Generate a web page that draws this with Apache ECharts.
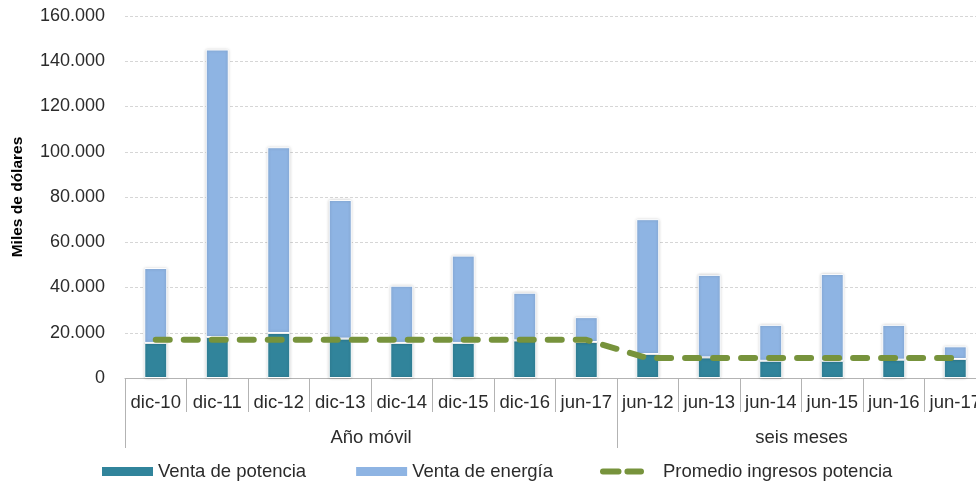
<!DOCTYPE html>
<html>
<head>
<meta charset="utf-8">
<script src="https://cdn.jsdelivr.net/npm/echarts@6/dist/echarts.min.js"></script>
<style>
  html, body { margin: 0; padding: 0; background: #fff; }
  #chart { width: 976px; height: 483px; }
</style>
</head>
<body>
<div id="chart"></div>
<script>
// Periods shown on the lower axis
const categories = ['dic-10', 'dic-11', 'dic-12', 'dic-13', 'dic-14', 'dic-15', 'dic-16', 'jun-17',
                    'jun-12', 'jun-13', 'jun-14', 'jun-15', 'jun-16', 'jun-17'];
// Period groups and how many periods each one holds
const groupNames = ['Año móvil', 'seis meses'];
const groupSizes = [8, 6];

// Miles de dólares
const ventaPotencia = [15500, 18100, 19900, 17400, 15500, 15500, 16600, 15900,
                       10600, 9100, 7600, 7600, 8100, 8400];
const ventaEnergia = [33100, 127100, 82100, 61300, 25300, 38600, 21100, 11000,
                      59600, 36500, 15900, 38400, 15400, 5600];
const promedioPotencia = [16900, 16900, 16900, 16900, 16900, 16900, 16900, 16900,
                          8800, 8800, 8800, 8800, 8800, 8800];

const yTicks = { min: 0, max: 160000, interval: 20000 };

// Group boundaries and centres along the category index scale
const groupEdges = [0];
groupSizes.forEach(n => groupEdges.push(groupEdges[groupEdges.length - 1] + n));
const groupCenters = groupSizes.map((n, i) => groupEdges[i] + n / 2);

const FONT = "'Liberation Sans', Arial, sans-serif";
const TEXT = '#2b2b2b';
const AXIS_GRAY = '#b3b3b3';
const C_POT = '#31849B';
const C_ENE = '#8EB4E3';
const C_AVG = '#77933C';

// Two short rounded dashes for the average line key
const DASH_ICON = 'path://M3,0H19A3,3 0 0 1 19,6H3A3,3 0 0 1 3,0Z M28,0H42A3,3 0 0 1 42,6H28A3,3 0 0 1 28,0Z';

function thousands(v) {
  return String(v).replace(/\B(?=(\d{3})+(?!\d))/g, '.');
}

const chart = echarts.init(document.getElementById('chart'), null, { renderer: 'canvas' });

const legendText = { fontFamily: FONT, fontSize: 18.5, color: TEXT };

chart.setOption({
  animation: false,
  textStyle: { fontFamily: FONT },
  grid: { left: 125, right: -10, top: 16, bottom: 105, containLabel: false, outerBoundsMode: 'none' },
  legend: [
    {
      left: 97,
      bottom: -3,
      itemWidth: 51,
      itemHeight: 9,
      itemGap: 50,
      textStyle: legendText,
      itemStyle: { borderWidth: 0, shadowBlur: 0 },
      data: [
        { name: 'Venta de potencia', icon: 'rect' },
        { name: 'Venta de energía', icon: 'rect' }
      ]
    },
    {
      left: 595,
      bottom: -3,
      itemWidth: 44,
      itemHeight: 6,
      itemGap: 10,
      textStyle: Object.assign({ padding: [0, 0, 0, 14] }, legendText),
      itemStyle: { color: C_AVG, borderWidth: 0 },
      data: [{ name: 'Promedio ingresos potencia', icon: DASH_ICON }]
    }
  ],
  xAxis: [
    {
      type: 'category',
      data: categories,
      boundaryGap: true,
      axisLine: { show: true, lineStyle: { color: AXIS_GRAY, width: 1 } },
      axisTick: { show: true, interval: 0, length: 34, lineStyle: { color: AXIS_GRAY } },
      axisLabel: { interval: 0, margin: 15, fontSize: 18.5, color: TEXT, fontFamily: FONT },
      splitLine: { show: false }
    },
    {
      type: 'value',
      position: 'bottom',
      offset: 34,
      min: 0,
      max: categories.length,
      axisLine: { show: false },
      axisTick: {
        show: true,
        length: 36,
        customValues: groupEdges,
        lineStyle: { color: AXIS_GRAY }
      },
      axisLabel: {
        show: true,
        customValues: groupCenters,
        margin: 16,
        fontSize: 18.5,
        color: TEXT,
        fontFamily: FONT,
        formatter: v => {
          const i = groupCenters.indexOf(v);
          return i >= 0 ? groupNames[i] : '';
        }
      },
      splitLine: { show: false }
    }
  ],
  yAxis: {
    type: 'value',
    min: yTicks.min,
    max: yTicks.max,
    interval: yTicks.interval,
    name: 'Miles de dólares',
    nameLocation: 'middle',
    nameGap: 99,
    nameRotate: 90,
    nameTextStyle: { fontFamily: FONT, fontSize: 15.5, fontWeight: 'bold', color: '#000' },
    axisLine: { show: false },
    axisTick: { show: false },
    axisLabel: {
      margin: 20,
      fontSize: 18,
      color: TEXT,
      fontFamily: FONT,
      formatter: v => thousands(v)
    },
    splitLine: { show: true, lineStyle: { color: '#d6d6d6', type: [3, 2], width: 1 } }
  },
  series: [
    {
      name: 'Venta de potencia',
      type: 'bar',
      stack: 'total',
      barWidth: 23,
      data: ventaPotencia,
      itemStyle: {
        color: C_POT,
        borderColor: '#ffffff',
        borderWidth: 1,
        shadowColor: 'rgba(0,0,0,0.22)',
        shadowBlur: 3
      }
    },
    {
      name: 'Venta de energía',
      type: 'bar',
      stack: 'total',
      barWidth: 23,
      data: ventaEnergia,
      itemStyle: {
        color: C_ENE,
        borderColor: '#ffffff',
        borderWidth: 1,
        shadowColor: 'rgba(0,0,0,0.22)',
        shadowBlur: 3
      }
    },
    {
      name: 'Promedio ingresos potencia',
      type: 'line',
      data: promedioPotencia,
      symbol: 'none',
      z: 5,
      itemStyle: { color: C_AVG },
      lineStyle: { color: C_AVG, width: 6, type: [14, 14], cap: 'round', join: 'round' }
    }
  ]
});
</script>
</body>
</html>
